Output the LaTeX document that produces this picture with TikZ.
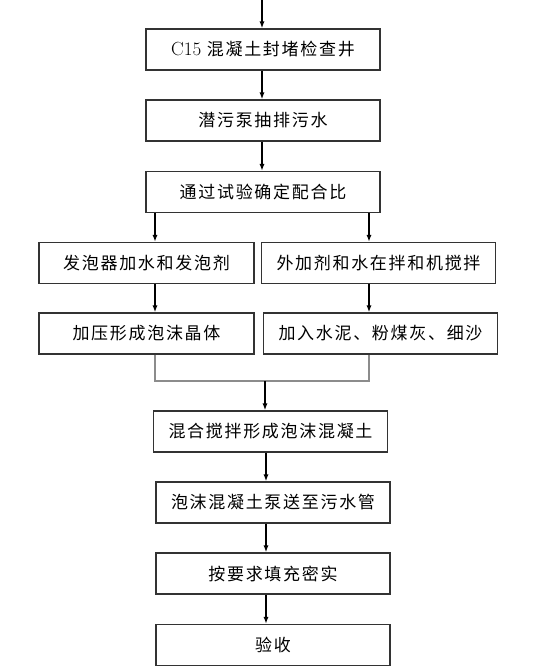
\documentclass[tikz,border=0pt]{standalone}
\usepackage{fontspec}
\newfontfamily\cjk[LetterSpace=10]{Noto Sans CJK SC}
\usepackage{tikz}
\usetikzlibrary{arrows.meta,positioning,calc}

\begin{document}
\begin{tikzpicture}[
  x=1pt,y=-1pt,
  font=\cjk\fontsize{17}{20}\selectfont,
  box/.style={draw=black!80,line width=1.1pt,fill=white,
              minimum width=234pt,minimum height=41pt,
              inner sep=0pt,text centered},
  sidebox/.style={box,minimum width=215pt},
  arr/.style={-{Latex[length=7pt,width=5pt]},line width=1.3pt},
  merge/.style={draw=black!45,line width=1.2pt}
]
\useasboundingbox (0,0) rectangle (538,668);

% Column positions of the connectors
\coordinate (start) at (262,0);
\coordinate (colL)  at (155,0);
\coordinate (colR)  at (369,0);
\coordinate (colM)  at (266,0);
\coordinate (join)  at (265,381);

% Main chain (top)
\node[box] (seal)  at (263,49.5)  {{\normalfont\fontsize{19}{20}\selectfont C15} 混凝土封堵检查井};
\node[box] (pump)  at (263,120.5) {潜污泵抽排污水};
\node[box] (ratio) at (263,192)   {通过试验确定配合比};

% Two branches
\node[sidebox] (foamer) at (146.5,263)   {发泡器加水和发泡剂};
\node[box]     (mixer)  at (378.5,263)   {外加剂和水在拌和机搅拌};
\node[sidebox] (foam)   at (146.5,333.5) {加压形成泡沫晶体};
\node[box]     (cement) at (380.5,333.5) {加入水泥、粉煤灰、细沙};

% Main chain (bottom)
\node[box] (blend)  at (270.5,431.5) {混合搅拌形成泡沫混凝土};
\node[box] (send)   at (273,502.5)   {泡沫混凝土泵送至污水管};
\node[box] (fill)   at (273,573.5)   {按要求填充密实};
\node[box] (accept) at (273,645)     {验收};

% Connectors
\draw[arr] (start) -- (seal.north -| start);
\draw[arr] (seal.south -| start) -- (pump.north -| start);
\draw[arr] (pump.south -| start) -- (ratio.north -| start);
\draw[arr] (ratio.south -| colL) -- (foamer.north -| colL);
\draw[arr] (ratio.south -| colR) -- (mixer.north -| colR);
\draw[arr] (foamer.south -| colL) -- (foam.north -| colL);
\draw[arr] (mixer.south -| colR) -- (cement.north -| colR);
\draw[merge] (foam.south -| colL) |- (join) -| (cement.south -| colR);
\draw[arr] (join) -- (blend.north -| join);
\draw[arr] (blend.south -| colM) -- (send.north -| colM);
\draw[arr] (send.south -| colM) -- (fill.north -| colM);
\draw[arr] (fill.south -| colM) -- (accept.north -| colM);

\end{tikzpicture}
\end{document}
